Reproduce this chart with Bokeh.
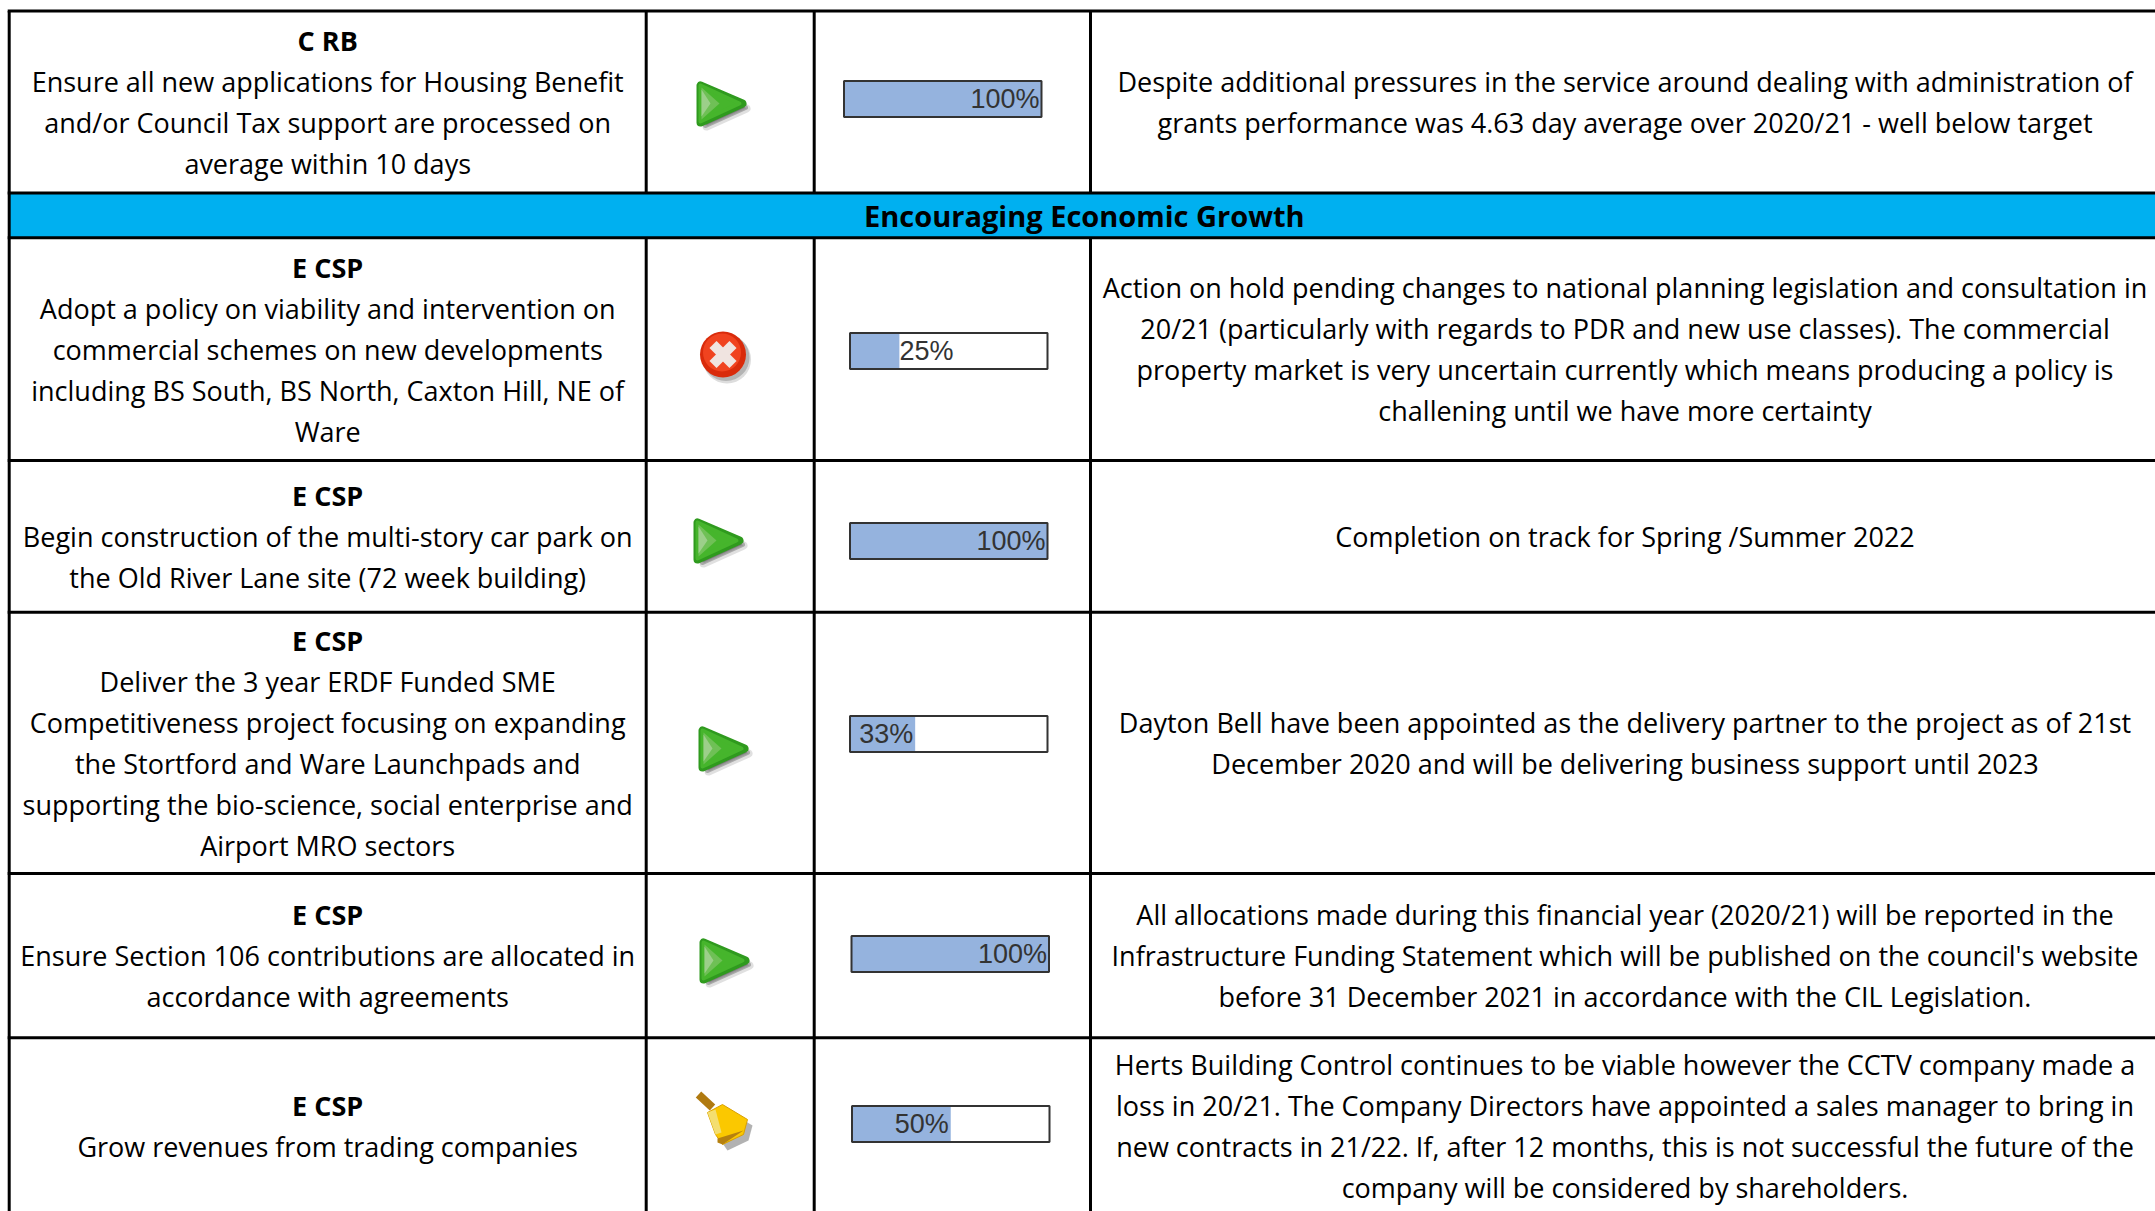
from bokeh.plotting import figure
from bokeh.embed import file_html
from bokeh.resources import INLINE
from bokeh.core.properties import value
from bokeh.models import Range1d

# ---- data ----
codes = ["C RB", "E CSP", "E CSP", "E CSP", "E CSP", "E CSP"]
actions = [
    ["Ensure all new applications for Housing Benefit", "and/or Council Tax support are processed on", "average within 10 days"],
    ["Adopt a policy on viability and intervention on", "commercial schemes on new developments", "including BS South, BS North, Caxton Hill, NE of", "Ware"],
    ["Begin construction of the multi-story car park on", "the Old River Lane site (72 week building)"],
    ["Deliver the 3 year ERDF Funded SME", "Competitiveness project focusing on expanding", "the Stortford and Ware Launchpads and", "supporting the bio-science, social enterprise and", "Airport MRO sectors"],
    ["Ensure Section 106 contributions are allocated in", "accordance with agreements"],
    ["Grow revenues from trading companies"],
]
comments = [
    ["Despite additional pressures in the service around dealing with administration of", "grants performance was 4.63 day average over 2020/21 - well below target"],
    ["Action on hold pending changes to national planning legislation and consultation in", "20/21 (particularly with regards to PDR and new use classes). The commercial", "property market is very uncertain currently which means producing a policy is", "challening until we have more certainty"],
    ["Completion on track for Spring /Summer 2022"],
    ["Dayton Bell have been appointed as the delivery partner to the project as of 21st", "December 2020 and will be delivering business support until 2023"],
    ["All allocations made during this financial year (2020/21) will be reported in the", "Infrastructure Funding Statement which will be published on the council's website", "before 31 December 2021 in accordance with the CIL Legislation."],
    ["Herts Building Control continues to be viable however the CCTV company made a", "loss in 20/21. The Company Directors have appointed a sales manager to bring in", "new contracts in 21/22. If, after 12 months, this is not successful the future of the", "company will be considered by shareholders."],
]
progress = [100, 25, 100, 33, 100, 50]
status = ["play", "cross", "play", "play", "play", "bell"]
section_title = "Encouraging Economic Growth"

# ---- layout (page pixels) ----
W, H = 2155, 1211
FONT = "Open Sans"
FS = "27px"
LH = 41.0
col_x = [8.7, 645.7, 813.7, 1090.0, 2159.0]
row_tops = [10.5, 237.3, 460.0, 611.7, 873.0, 1037.3]
row_bots = [192.5, 460.0, 611.7, 873.0, 1037.3, 1214.0]
band = (192.5, 237.3)
bars = [(843.5, 80.5), (849.5, 332.5), (849.5, 522.5), (849.5, 715.5), (851.0, 935.5), (851.5, 1105.5)]
BW, BH = 197.5, 36.0
icons = [(695, 80), (0, 0), (692, 517), (697, 725), (698, 937), (0, 0)]

p = figure(width=W, height=H, output_backend="svg", toolbar_location=None,
           x_range=Range1d(0, W), y_range=Range1d(H, 0), min_border=0)
p.axis.visible = False
p.grid.visible = False
p.outline_line_color = None
p.background_fill_color = "white"
p.border_fill_color = "white"

# section band
p.quad(left=[col_x[0]], right=[2200], top=[band[0]], bottom=[band[1]], fill_color="#00B0F0", line_color=None)

# grid lines
for y in sorted(set(row_tops + row_bots)):
    p.line([col_x[0] - 1.5, 2200], [y, y], line_color="black", line_width=3)
p.line([col_x[0], col_x[0]], [10.5, 1214], line_color="black", line_width=3)
for x in col_x[1:-1]:
    p.line([x, x], [10.5, band[0]], line_color="black", line_width=3)
    p.line([x, x], [band[1], 1214], line_color="black", line_width=3)

def put_text(x, y, t, bold=False, size=FS, color="black", align="center", font=FONT):
    p.text([x], [y], text=[t], text_font=value(font), text_font_size=value(size),
           text_font_style="bold" if bold else "normal", text_color=color,
           text_align=align, text_baseline="middle")

# section title
put_text((col_x[0] + col_x[-1]) / 2, sum(band) / 2, section_title, bold=True, size="29px")

# text columns
lc = (col_x[0] + col_x[1]) / 2
rc = (col_x[3] + col_x[4]) / 2
for i in range(6):
    mid = (row_tops[i] + row_bots[i]) / 2
    left = [codes[i]] + actions[i]
    y0 = mid - LH * (len(left) - 1) / 2
    for k, t in enumerate(left):
        put_text(lc, y0 + k * LH, t, bold=(k == 0))
    y0 = mid - LH * (len(comments[i]) - 1) / 2
    for k, t in enumerate(comments[i]):
        put_text(rc, y0 + k * LH, t)

# progress bars
for (bx, by), v in zip(bars, progress):
    fill_end = bx + BW * v / 100
    p.quad(left=[bx], right=[bx + BW], top=[by], bottom=[by + BH], fill_color="white", line_color=None)
    p.quad(left=[bx], right=[fill_end], top=[by], bottom=[by + BH], fill_color="#95B3DE", line_color=None)
    p.quad(left=[bx], right=[bx + BW], top=[by], bottom=[by + BH], fill_color=None, line_color="#333333", line_width=2)
    label = f"{v}%"
    if v < 30:
        put_text(fill_end, by + BH / 2 - 0.5, label, size="27px", color="#333333", align="left", font="Liberation Sans")
    else:
        put_text(fill_end - 2, by + BH / 2 - 0.5, label, size="27px", color="#333333", align="right", font="Liberation Sans")

# status icons
def play(x, y):
    for dx, dy, lw, col, a in [(5, 5, 8, "#555555", 0.18), (4, 4, 5, "#444444", 0.35)]:
        p.patch([x + 6 + dx, x + 6 + dx, x + 46 + dx], [y + 6 + dy, y + 41 + dy, y + 23 + dy],
                fill_color=col, fill_alpha=a, line_color=col, line_alpha=a, line_width=lw, line_join="round")
    p.patch([x + 5, x + 5, x + 47], [y + 5, y + 42, y + 23], fill_color="#2F9A1E", line_color="#2F9A1E",
            line_width=8, line_join="round")
    p.patch([x + 5, x + 5, x + 44], [y + 5, y + 41, y + 23], fill_color="#46B52C", line_color="#46B52C",
            line_width=4, line_join="round")
    p.patch([x + 6, x + 6, x + 24], [y + 7, y + 39, y + 23], fill_color="#6FC056", line_color=None)
    p.patch([x + 6, x + 6, x + 15], [y + 9, y + 36, y + 23], fill_color="#9CCF8A", line_color=None)

def cross(cx, cy):
    p.circle([cx + 4], [cy + 5], radius=24, fill_color="#777777", fill_alpha=0.25, line_color=None)
    p.circle([cx + 3], [cy + 3], radius=23.5, fill_color="#666666", fill_alpha=0.35, line_color=None)
    p.circle([cx], [cy], radius=23, fill_color="#D92B0B", line_color=None)
    p.circle([cx - 1], [cy - 2], radius=19, fill_color="#F0431F", line_color=None)
    p.line([cx - 10, cx + 10], [cy - 10, cy + 10], line_color="#F0E4E0", line_width=10)
    p.line([cx - 10, cx + 10], [cy + 10, cy - 10], line_color="#F0E4E0", line_width=10)

def bell(x, y):
    xs = [x + 12, x + 27, x + 52, x + 48, x + 27, x + 20]
    ys = [y + 20, y + 12, y + 27, y + 42, y + 52, y + 42]
    p.patch([a + 5 for a in xs], [b + 6 for b in ys], fill_color="#666666", fill_alpha=0.5, line_color=None)
    p.line([x + 3, x + 17], [y + 2, y + 15], line_color="#B07A10", line_width=8)
    p.patch(xs, ys, fill_color="#FBC800", line_color="#D9A000", line_width=1)
    p.patch([x + 12, x + 20, x + 26, x + 20], [y + 20, y + 17, y + 40, y + 42], fill_color="#F4DE70", line_color=None)
    p.patch([x + 22, x + 48, x + 27, x + 22], [y + 46, y + 38, y + 52, y + 50], fill_color="#B5800F", line_color=None)

for (ix, iy), s in zip(icons, status):
    if s == "play":
        play(ix, iy)
    elif s == "cross":
        cross(722.5, 354)
    else:
        bell(695, 1092)

open("out.html", "w").write(file_html(p, INLINE))
